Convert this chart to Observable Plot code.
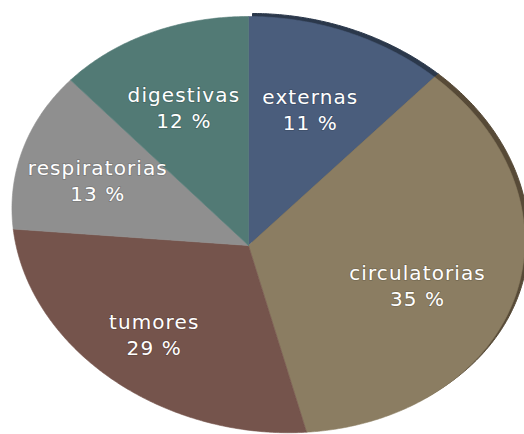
<!DOCTYPE html>
<html>
<head>
<meta charset="utf-8">
<script src="https://cdn.jsdelivr.net/npm/d3@7"></script>
<script src="https://cdn.jsdelivr.net/npm/@observablehq/plot@0.6"></script>
<style>
  html, body { margin: 0; padding: 0; background: #ffffff; }
  #chart svg { display: block; }
  #chart svg text { letter-spacing: 1.1px; }
</style>
</head>
<body>
<div id="chart"></div>
<script>
// ---- data ----
const categories = ["externas", "circulatorias", "tumores", "respiratorias", "digestivas"];
const values = [11, 35, 29, 13, 12];
const colors = ["#4a5d7c", "#8b7d62", "#75544c", "#8f8f8f", "#527a75"];
const rimColors = ["#2b384b", "#574a37", null, null, null];

// ---- tilted-disc projection (unit disc -> plane coords, y up) ----
const W = 524, H = 434;
const cx = 248, cy = 245, R = 253.4;
function project(theta, r) {            // theta in degrees, clockwise from 12 o'clock
  const t = theta * Math.PI / 180;
  const u = r * Math.sin(t), v = r * Math.cos(t);
  const w = 1 - 0.077 * u - 0.107 * v;
  return [u / w, (-0.07 * u + 0.807 * v) / w];
}

const total = d3.sum(values);
let acc = 0;
const slices = categories.map((c, i) => {
  const a0 = acc / total * 360;
  acc += values[i];
  const a1 = acc / total * 360;
  return {name: c, value: values[i], a0, a1, color: colors[i], rim: rimColors[i]};
});

function polygon(s) {
  const pts = [];
  const [x0, y0] = project(0, 0);
  pts.push({name: s.name, x: x0, y: y0});
  const n = Math.max(2, Math.ceil((s.a1 - s.a0) / 0.5));
  for (let k = 0; k <= n; k++) {
    const a = s.a0 + (s.a1 - s.a0) * k / n;
    const [x, y] = project(a, 1);
    pts.push({name: s.name, x, y});
  }
  pts.push({name: s.name, x: x0, y: y0});
  return pts;
}

const polys = slices.flatMap(polygon);
const rimPolys = slices.filter(s => s.rim).flatMap(polygon);

const labels = slices.map(s => {
  const [x, y] = project((s.a0 + s.a1) / 2, 0.66);
  return {x, y, text: `${s.name}\n${Math.round(s.value / total * 100)} %`};
});

const xDomain = [-cx / R, (W - cx) / R];
const yDomain = [-(H - cy) / R, cy / R];

const plot = Plot.plot({
  width: W,
  height: H,
  margin: 0,
  x: {domain: xDomain, axis: null},
  y: {domain: yDomain, axis: null},
  color: {domain: categories, range: colors},
  style: {background: "#ffffff"},
  marks: [
    Plot.line(rimPolys, {
      x: "x", y: "y", z: "name",
      fill: d => rimColors[categories.indexOf(d.name)],
      stroke: d => rimColors[categories.indexOf(d.name)],
      strokeWidth: 1,
      dx: 4, dy: -3
    }),
    Plot.line(polys, {
      x: "x", y: "y", z: "name",
      fill: "name", stroke: "name", strokeWidth: 0.6
    }),
    Plot.text(labels, {
      x: "x", y: "y", text: "text",
      fill: "#ffffff",
      fontSize: 20,
      lineHeight: 1.3,
      fontFamily: "DejaVu Sans",
      textAnchor: "middle",
      lineAnchor: "middle",
      stroke: "rgba(0,0,0,0.12)",
      strokeWidth: 2,
      dy: -3
    })
  ]
});

document.getElementById("chart").appendChild(plot);
</script>
</body>
</html>
